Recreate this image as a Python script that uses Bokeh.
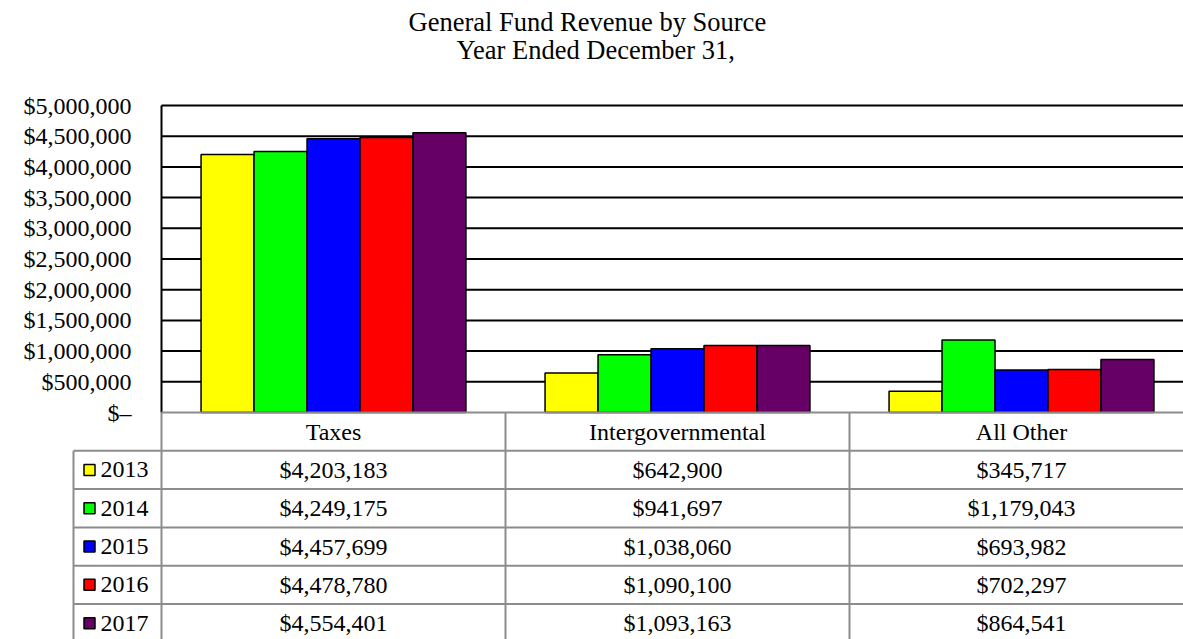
from bokeh.plotting import figure
from bokeh.models import Range1d, LinearAxis, FixedTicker, Title, ColumnDataSource
from bokeh.core.properties import value
from bokeh.embed import file_html
from bokeh.resources import INLINE

# ---------------- data ----------------
categories = ["Taxes", "Intergovernmental", "All Other"]
years = ["2013", "2014", "2015", "2016", "2017"]
colors = ["#FFFF00", "#00FF00", "#0000FF", "#FF0000", "#660066"]
v2013 = [4203183, 642900, 345717]
v2014 = [4249175, 941697, 1179043]
v2015 = [4457699, 1038060, 693982]
v2016 = [4478780, 1090100, 702297]
v2017 = [4554401, 1093163, 864541]
series = [v2013, v2014, v2015, v2016, v2017]
yticks = [0, 500000, 1000000, 1500000, 2000000, 2500000,
          3000000, 3500000, 4000000, 4500000, 5000000]
ytick_labels = ["$\u2013", "$500,000", "$1,000,000", "$1,500,000", "$2,000,000",
                "$2,500,000", "$3,000,000", "$3,500,000", "$4,000,000",
                "$4,500,000", "$5,000,000"]

# ---------------- layout (pixels) ----------------
FONT_NAME = "Liberation Serif"
FONT = value(FONT_NAME)
W, H = 1183, 639
BORDER_TOP = 92          # title area above the plot frame
BORDER_LEFT = 2
AXIS_PX = 161            # canvas x of the category axis start
CAT_PX = 344             # width of one category column
ZERO_PX = 320            # frame top to zero line
SCALE_PX = 307           # pixels from zero line to the top tick
ROW_PX = 38.3            # table row height
FRAME_H = H - BORDER_TOP
FRAME_W = W - BORDER_LEFT
LEFT_PX = AXIS_PX - BORDER_LEFT
BELOW_PX = FRAME_H - ZERO_PX
YMAX = yticks[-1]

x_start = -LEFT_PX / CAT_PX
x_end = (FRAME_W - LEFT_PX) / CAT_PX
y_start = -BELOW_PX / SCALE_PX * YMAX
y_end = ZERO_PX / SCALE_PX * YMAX

p = figure(width=W, height=H, output_backend="svg", toolbar_location=None,
           x_range=Range1d(x_start, x_end), y_range=Range1d(y_start, y_end),
           x_axis_type=None, y_axis_type=None, title=None,
           min_border_left=BORDER_LEFT, min_border_right=0,
           min_border_top=BORDER_TOP, min_border_bottom=0)
p.outline_line_color = None
p.grid.visible = False
p.background_fill_color = "white"
p.border_fill_color = "white"
p.extra_y_ranges = {"table": Range1d(BELOW_PX / ROW_PX, -ZERO_PX / ROW_PX)}

# titles (added from the frame outward)
p.add_layout(Title(text=" ", text_font=FONT_NAME, text_font_size="26.5px",
                   standoff=-2), "above")
p.add_layout(Title(text="Year Ended December 31,", align="left", offset=454,
                   text_font=FONT_NAME, text_font_size="26.5px", text_font_style="normal",
                   text_color="black", standoff=-4), "above")
p.add_layout(Title(text="General Fund Revenue by Source", align="left", offset=406,
                   text_font=FONT_NAME, text_font_size="26.5px", text_font_style="normal",
                   text_color="black", standoff=-4),
             "above")

ncat = len(categories)
cx = [i + 0.5 for i in range(ncat)]

# gridlines
gl = [t for t in yticks if t > 0]
p.segment(x0=[0] * len(gl), x1=[ncat] * len(gl), y0=gl, y1=gl,
          line_color="black", line_width=2)
p.segment(x0=[0], x1=[0], y0=[0], y1=[YMAX], line_color="black", line_width=2)

# bars
bw = 0.154
for k, (yr, col, vals) in enumerate(zip(years, colors, series)):
    off = (k - (len(years) - 1) / 2) * bw
    src = ColumnDataSource(dict(x=[c + off for c in cx], top=vals))
    p.vbar(x="x", top="top", bottom=0, width=bw, source=src, fill_color=col,
           line_color="black", line_width=1.5)

# y axis at x=0
ax = LinearAxis(fixed_location=0, ticker=FixedTicker(ticks=yticks),
                major_label_overrides={t: l for t, l in zip(yticks, ytick_labels)},
                axis_line_color=None, major_tick_line_color=None,
                major_tick_in=0, major_tick_out=0,
                minor_tick_line_color=None, major_label_standoff=30,
                major_label_text_font=FONT_NAME, major_label_text_font_size="24px",
                major_label_text_color="black")
p.add_layout(ax, "left")

# ---------------- data table ----------------
grey = "#8c8c8c"
leg_left = -88 / CAT_PX
nrows = len(years)
# horizontal lines
p.segment(x0=[0], x1=[ncat], y0=[0], y1=[0], line_color=grey, line_width=2,
          y_range_name="table")
hy = [r + 1 for r in range(nrows + 1)]
p.segment(x0=[leg_left] * len(hy), x1=[ncat] * len(hy), y0=hy, y1=hy,
          line_color=grey, line_width=2, y_range_name="table")
# vertical lines
vx = [i for i in range(ncat + 1)]
p.segment(x0=vx, x1=vx, y0=[0] * len(vx), y1=[nrows + 1] * len(vx),
          line_color=grey, line_width=2, y_range_name="table")
p.segment(x0=[leg_left], x1=[leg_left], y0=[1], y1=[nrows + 1],
          line_color=grey, line_width=2, y_range_name="table")

# header
p.text(x=cx, y=[0.5] * ncat, text=categories, text_font=FONT,
       text_font_size="24px", text_align="center", text_baseline="middle",
       text_color="black", y_range_name="table")
# values
tx, ty, tt = [], [], []
for r, vals in enumerate(series):
    for i, v in enumerate(vals):
        tx.append(cx[i]); ty.append(r + 1.5); tt.append("${:,}".format(v))
p.text(x=tx, y=ty, text=tt, text_font=FONT, text_font_size="24px",
       text_align="center", text_baseline="middle", text_color="black",
       y_range_name="table")
# legend keys
ry = [r + 1.5 for r in range(nrows)]
p.rect(x=[-72 / CAT_PX] * nrows, y=ry, width=11, height=11, width_units="screen",
       height_units="screen", fill_color=colors, line_color="black",
       line_width=1.5, y_range_name="table")
p.text(x=[-61 / CAT_PX] * nrows, y=ry, text=years, text_font=FONT,
       text_font_size="24px", text_align="left", text_baseline="middle",
       text_color="black", y_range_name="table")

open("out.html", "w").write(file_html(p, INLINE))
